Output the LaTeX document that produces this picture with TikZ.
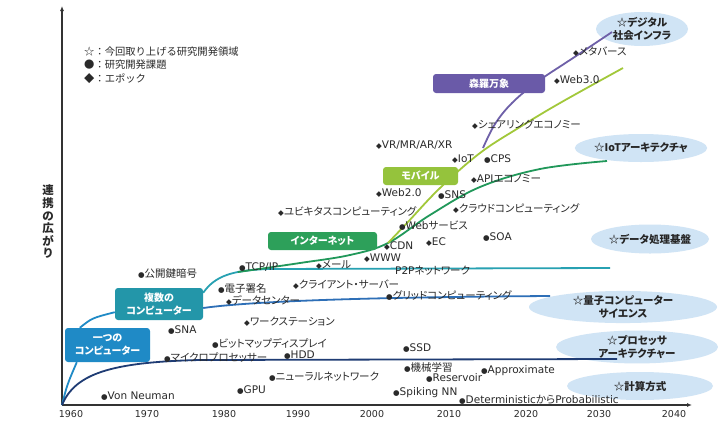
\documentclass[tikz,border=0pt]{standalone}
\usepackage{fontspec}
\setmainfont{DejaVu Sans}
\newfontfamily\jp[RawFeature=+palt]{Noto Sans CJK JP}
\newfontfamily\jpf{Noto Sans CJK JP}
\usetikzlibrary{shapes.geometric,arrows.meta}
\definecolor{cBoxA}{HTML}{1F8AC6}
\definecolor{cBoxB}{HTML}{2396A9}
\definecolor{cBoxC}{HTML}{2DA05A}
\definecolor{cBoxD}{HTML}{95C33C}
\definecolor{cBoxE}{HTML}{6A5AA8}
\definecolor{cNavy}{HTML}{1F3C74}
\definecolor{cBlue}{HTML}{2E6FB7}
\definecolor{cTeal}{HTML}{27A1B2}
\definecolor{cGreen}{HTML}{21985A}
\definecolor{cLime}{HTML}{A2C83A}
\definecolor{cPurple}{HTML}{6E60A8}
\definecolor{cCloud}{HTML}{D0E4F5}
\definecolor{cText}{HTML}{2A2A2A}
\newcommand\MKc{{\fontsize{7.5}{8}\selectfont ●}}
\newcommand\MKd{{\fontsize{7.5}{8}\selectfont ◆}}
\begin{document}
\begin{tikzpicture}[x=1pt,y=-1pt,
  axisline/.style={draw=black!80,line width=1.6pt,-{Latex[length=5pt,width=4pt]}},
  curve/.style={line width=1.8pt},
  boxnode/.style={rounded corners=3pt,text=white,align=center,inner sep=0pt,
    font=\jp\bfseries\fontsize{10}{13}\selectfont},
  cloud/.style={ellipse,fill=cCloud,draw=none,inner sep=0pt,align=center,text=black!85,
    font=\jp\bfseries\fontsize{10.5}{13}\selectfont},
  lab/.style={anchor=west,inner sep=0pt,text=cText,font=\fontsize{10.5}{11}\selectfont},
  year/.style={anchor=north,inner sep=0pt,text=cText,font=\fontsize{9.5}{10}\selectfont}
]
\useasboundingbox (0,0) rectangle (718,421);
\clip (0,0) rectangle (718,421);
\fill[white] (0,0) rectangle (718,421);

% clouds
\node[cloud,minimum width=92,minimum height=34] (cDig) at (642,29) {☆デジタル\\社会インフラ};
\node[cloud,minimum width=112,minimum height=28] (cIoT) at (641,148) {☆IoTアーキテクチャ};
\node[cloud,minimum width=118,minimum height=29] (cData) at (650,239) {☆データ処理基盤};
\node[cloud,minimum width=188,minimum height=30] (cQua) at (623,307) {☆量子コンピューター\\サイエンス};
\node[cloud,minimum width=162,minimum height=30] (cProc) at (637,347) {☆プロセッサ\\アーキテクチャー};
\node[cloud,minimum width=146,minimum height=28] (cCalc) at (640,386) {☆計算方式};

% axes
\coordinate (O) at (62,405);
\coordinate (ytop) at (62,6);
\coordinate (xend) at (692,405);
\draw[axisline] (O) -- (ytop);
\draw[axisline] (O) -- (xend);

% boxes
\node[boxnode,fill=cBoxA,minimum width=85,minimum height=34] (b1) at (107.5,345) {一つの\\コンピューター};
\node[boxnode,fill=cBoxB,minimum width=88,minimum height=32] (b2) at (159,304) {複数の\\コンピューター};

% curve end coordinates
\coordinate (eNavy) at (617,359);
\coordinate (eBlue) at (550,296);
\coordinate (eTeal) at (610,268);
\coordinate (sGreen) at (238,272);
\coordinate (eGreen) at (607,161);
\coordinate (sLime) at (388,243);
\coordinate (eLime) at (623,68);
\coordinate (sPurple) at (483,148);
\coordinate (ePurple) at (612,32);

% curves
\draw[curve,cBoxA] (O) .. controls (67,385) .. ([xshift=12pt]b1.south west);
\draw[curve,cBoxA] ([xshift=15pt]b1.north west) .. controls (92,318) .. ([yshift=8pt]b2.south west);
\draw[curve,cNavy] (O) .. controls (75,374) and (110,362) .. (200,360) -- (eNavy);
\draw[curve,cBlue] ([yshift=-4pt]b2.east) .. controls (260,300) and (400,297) .. (eBlue);
\draw[curve,cTeal] ([yshift=-5pt]b2.north east) .. controls (215,276) and (232,270) .. (270,269) -- (eTeal);
\draw[curve,cGreen] plot[smooth,tension=0.6] coordinates {(sGreen) (300,263) (350,255) (388,243) (430,215) (480,187) (540,169) (eGreen)};
\draw[curve,cLime] plot[smooth,tension=0.6] coordinates {(sLime) (407,223) (440,188) (480,153) (520,127) (560,103) (eLime)};
\draw[curve,cPurple] plot[smooth,tension=0.6] coordinates {(sPurple) (495,124) (512,103) (537,82) (570,60) (ePurple)};

\node[boxnode,fill=cBoxC,minimum width=109,minimum height=18] (b3) at (322.5,241) {インターネット};
\node[boxnode,fill=cBoxD,minimum width=75,minimum height=18] (b4) at (420.5,176) {モバイル};
\node[boxnode,fill=cBoxE,minimum width=112,minimum height=19] (b5) at (489,83.5) {森羅万象};

% y label and legend
\node[font=\jpf\bfseries\fontsize{11.5}{12.6}\selectfont,align=center,inner sep=0pt,text=cText] (ylab) at (48,222) {連\\携\\の\\広\\が\\り};
\node[anchor=west,inner sep=0pt,align=left,text=cText,font=\jpf\fontsize{10.3}{13.5}\selectfont] (leg) at (84,65) {☆：今回取り上げる研究開発領域\\●：研究開発課題\\◆：エポック};

% labels
\node[lab] (l1) at (138,274) {\MKc{\jp 公開鍵暗号}};
\node[lab] (l2) at (239,267) {\MKc TCP/IP};
\node[lab] (l3) at (316,265) {\MKd{\jp メール}};
\node[lab] (l4) at (364,258) {\MKd WWW};
\node[lab] (l5) at (384,246) {\MKd CDN};
\node[lab] (l6) at (426,242) {\MKd EC};
\node[lab] (l7) at (399,226) {\MKc Web{\jp サービス}};
\node[lab] (l8) at (278,212) {\MKd{\jp ユビキタスコンピューティング}};
\node[lab] (l9) at (376,193) {\MKd Web2.0};
\node[lab] (l10) at (438,195) {\MKc SNS};
\node[lab] (l11) at (453,209) {\MKd{\jp クラウドコンピューティング}};
\node[lab] (l12) at (483,237) {\MKc SOA};
\node[lab] (l13) at (471,179) {\MKd API{\jp エコノミー}};
\node[lab] (l14) at (484,159) {\MKc CPS};
\node[lab] (l15) at (452,159) {\MKd IoT};
\node[lab] (l16) at (376,145) {\MKd VR/MR/AR/XR};
\node[lab] (l17) at (472,125) {\MKd{\jp シェアリングエコノミー}};
\node[lab] (l18) at (573,52) {\MKd{\jp メタバース}};
\node[lab] (l19) at (554,80) {\MKd Web3.0};
\node[lab] (l20) at (395,271) {P2P{\jp ネットワーク}};
\node[lab] (l21) at (218,289) {\MKc{\jp 電子署名}};
\node[lab] (l22) at (226,300) {\MKd{\jp データセンター}};
\node[lab] (l23) at (293,285) {\MKd{\jp クライアント・サーバー}};
\node[lab] (l24) at (386,296) {\MKc{\jp グリッドコンピューティング}};
\node[lab] (l25) at (244,322) {\MKd{\jp ワークステーション}};
\node[lab] (l26) at (168,330) {\MKc SNA};
\node[lab] (l27) at (212,343) {\MKc{\jp ビットマップディスプレイ}};
\node[lab] (l28) at (164,358) {\MKc{\jp マイクロプロセッサー}};
\node[lab] (l29) at (284,355) {\MKc HDD};
\node[lab] (l30) at (403,348) {\MKc SSD};
\node[lab] (l31) at (404,368) {\MKc{\jp 機械学習}};
\node[lab] (l32) at (269,377) {\MKc{\jp ニューラルネットワーク}};
\node[lab] (l33) at (237,390) {\MKc GPU};
\node[lab] (l34) at (426,378) {\MKc Reservoir};
\node[lab] (l35) at (393,393) {\MKc Spiking NN};
\node[lab] (l36) at (459,400) {\MKc Deterministic{\jp から}Probabilistic};
\node[lab] (l37) at (481,371) {\MKc Approximate};
\node[lab] (l38) at (101,396) {\MKc Von Neuman};

% years
\node[year] (y60) at (71,410) {1960};
\node[year] (y70) at (147,410) {1970};
\node[year] (y80) at (224,410) {1980};
\node[year] (y90) at (298,410) {1990};
\node[year] (y00) at (372,410) {2000};
\node[year] (y10) at (449,410) {2010};
\node[year] (y20) at (526,410) {2020};
\node[year] (y30) at (599,410) {2030};
\node[year] (y40) at (674,410) {2040};
\end{tikzpicture}
\end{document}
